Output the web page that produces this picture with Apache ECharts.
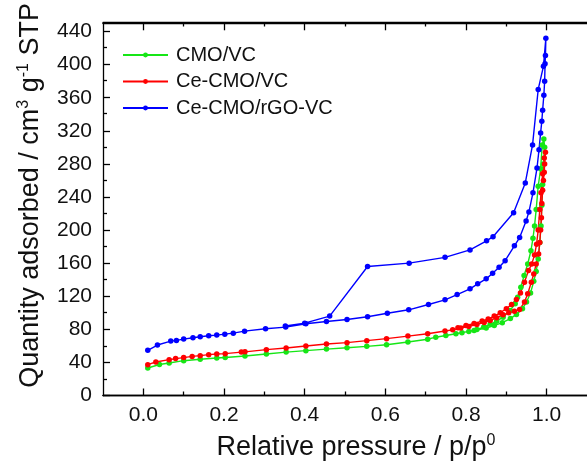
<!DOCTYPE html>
<html>
<head>
<meta charset="utf-8">
<title>isotherm</title>
<script src="https://cdn.jsdelivr.net/npm/echarts@6/dist/echarts.min.js"></script>
<style>
html,body{margin:0;padding:0;background:#fff;}
#chart{width:587px;height:469px;}
</style>
</head>
<body>
<div id="chart"></div>
<script>
// tick values
var xMajor=[0,0.2,0.4,0.6,0.8,1.0];
var xMinor=[0.1,0.3,0.5,0.7,0.9];
var yMajor=[0,40,80,120,160,200,240,280,320,360,400,440];
var yMinor=[20,60,100,140,180,220,260,300,340,380,420];
var names=['CMO/VC','Ce-CMO/VC','Ce-CMO/rGO-VC'];
var colors=['#16e616','#ff0000','#0000ff'];

// [p/p0, quantity] , adsorption then desorption
var cmoVC=[[0.011,33.3],[0.04,37.5],[0.064,39.3],[0.1,42.1],[0.141,43.8],[0.182,45.3],[0.203,46],[0.252,47.7],[0.305,50.1],[0.354,52.5],[0.403,54.2],[0.454,56.1],[0.505,57.8],[0.554,59.4],[0.603,61.4],[0.656,64.6],[0.705,68],[0.725,70.5],[0.75,72.6],[0.775,74.7],[0.807,77.5],[0.827,79.9],[0.844,82.7],[0.86,86],[0.876,89.9],[0.892,94.7],[0.909,102.8],[0.922,110.8],[0.928,118.8],[0.936,131],[0.944,145],[0.953,159],[0.961,175],[0.966,190],[0.97,205],[0.974,225],[0.979,253],[0.985,274],[0.989,303],[0.993,310],
  [0.995,300],[0.992,280],[0.99,255],[0.988,230],[0.986,205],[0.983,185],[0.979,165],[0.974,150],[0.968,138],[0.96,124],[0.95,113],[0.94,105],[0.925,98],[0.91,93],[0.89,88],[0.87,84.5],[0.85,81.5],[0.82,78.5],[0.79,76]];
var ceCmoVC=[[0.011,37.3],[0.031,40.5],[0.064,43.3],[0.08,44.6],[0.1,45.8],[0.121,47.3],[0.141,48.2],[0.162,49.4],[0.182,50.2],[0.203,50.6],[0.243,52.5],[0.252,52.8],[0.305,55.4],[0.354,57.4],[0.403,59.8],[0.454,62.2],[0.505,63.9],[0.554,66.3],[0.603,68.7],[0.656,71.8],[0.705,74.7],[0.748,77.9],[0.767,79.5],[0.787,81.5],[0.807,83.5],[0.827,85.9],[0.845,88.3],[0.86,90.7],[0.876,94],[0.892,97.5],[0.906,100],[0.92,102],[0.933,104],[0.945,113],[0.953,123],[0.962,137],[0.968,147],[0.974,159],[0.98,171],[0.983,185],[0.985,200],[0.987,215],[0.988,232],[0.99,248],[0.992,260],[0.994,270],[0.995,280],[0.997,294],
  [0.994,287],[0.99,268],[0.986,245],[0.983,225],[0.979,200],[0.975,183],[0.97,170],[0.963,159],[0.955,151],[0.945,137],[0.935,124],[0.925,116],[0.913,110],[0.9,105],[0.885,100],[0.87,96],[0.855,92.5],[0.84,90],[0.82,87],[0.8,84.5],[0.78,82]];
var ceCmoRgoVC=[[0.011,54.6],[0.035,61],[0.068,65.8],[0.082,66.6],[0.1,68.2],[0.123,69.9],[0.141,71],[0.162,72.3],[0.182,73],[0.202,74.2],[0.223,75.4],[0.251,77.8],[0.303,80.7],[0.353,82.7],[0.403,86.7],[0.454,89.5],[0.505,91.9],[0.556,95.2],[0.605,99.5],[0.658,103.6],[0.707,110],[0.748,115.7],[0.778,122],[0.81,129],[0.829,135],[0.85,141],[0.866,147.7],[0.882,155],[0.897,163],[0.92,181],[0.933,191],[0.949,211],[0.956,222],[0.966,245],[0.976,275],[0.981,297],[0.985,317.5],[0.988,331.7],[0.99,345],[0.993,363],[0.995,380],[0.996,401],[0.997,411],[0.998,432],
  [0.992,398],[0.979,370],[0.965,303],[0.947,257],[0.918,221],[0.867,192],[0.851,187],[0.81,176],[0.748,167],[0.659,160],[0.556,156],[0.462,96],[0.40,87.5],[0.352,84]];

var font='Liberation Sans, Arial, sans-serif';
var myChart=echarts.init(document.getElementById('chart'));
var box={left:103,top:22.5,width:490,height:373};

function xTicks(grid,pos,vals,len,labels){
  return {
    type:'value', gridIndex:grid, position:pos, min:-0.1, max:1.1,
    axisLine:{show:true,onZero:false,lineStyle:{color:'#000',width:1.3}},
    axisTick:{show:true,inside:true,length:len,customValues:vals,lineStyle:{color:'#000',width:1.3}},
    axisLabel:{show:labels,customValues:vals,margin:9,fontSize:21,color:'#111',fontFamily:font,
      formatter:function(v){return v.toFixed(1);}},
    splitLine:{show:false}
  };
}

var xAxes=[xTicks(0,'bottom',xMajor,7,true),xTicks(0,'top',xMajor,7,false),
           xTicks(1,'bottom',xMinor,4,false),xTicks(1,'top',xMinor,4,false)];
xAxes[0].name='Relative pressure / p/p{s|0}';
xAxes[0].nameLocation='middle';
xAxes[0].nameGap=37;
xAxes[0].nameTextStyle={fontSize:27,fontFamily:font,color:'#111',lineHeight:30,padding:[0,0,0,22],
  rich:{s:{fontSize:16,lineHeight:16,verticalAlign:'top',fontFamily:font,color:'#111'}}};

var yAxes=[{
    type:'value', gridIndex:0, position:'left', min:0, max:450,
    name:'Quantity adsorbed / cm{s|3} g{s|-1} STP', nameLocation:'middle', nameGap:57,
    nameTextStyle:{fontSize:27,fontFamily:font,color:'#111',lineHeight:30,padding:[0,0,0,28],
      rich:{s:{fontSize:16,lineHeight:16,verticalAlign:'top',fontFamily:font,color:'#111'}}},
    axisLine:{show:true,onZero:false,lineStyle:{color:'#000',width:1.3}},
    axisTick:{show:true,inside:true,length:7,customValues:yMajor,lineStyle:{color:'#000',width:1.3}},
    axisLabel:{customValues:yMajor,margin:11,fontSize:21,color:'#111',fontFamily:font},
    splitLine:{show:false}
  },{
    type:'value', gridIndex:1, position:'left', min:0, max:450,
    axisLine:{show:false,onZero:false},
    axisTick:{show:true,inside:true,length:4,customValues:yMinor,lineStyle:{color:'#000',width:1.3}},
    axisLabel:{show:false},
    splitLine:{show:false}
  }];

function makeSeries(i,data){
  return {
    name:names[i], type:'line', data:data,
    xAxisIndex:0, yAxisIndex:0,
    symbol:'circle', symbolSize:5.5, showSymbol:true,
    color:colors[i],
    lineStyle:{width:1.4,color:colors[i]},
    itemStyle:{color:colors[i]},
    animation:false
  };
}

option={
  animation:false,
  grid:[box,box],
  legend:{
    orient:'vertical', left:122, top:45, padding:0,
    itemWidth:45, itemHeight:6, itemGap:6.5,
    textStyle:{fontSize:20,fontFamily:font,color:'#111',lineHeight:20,padding:[0,0,0,3]},
    data:names
  },
  xAxis:xAxes,
  yAxis:yAxes,
  series:[makeSeries(0,cmoVC),makeSeries(1,ceCmoVC),makeSeries(2,ceCmoRgoVC)]
};
myChart.setOption(option);
</script>
</body>
</html>
